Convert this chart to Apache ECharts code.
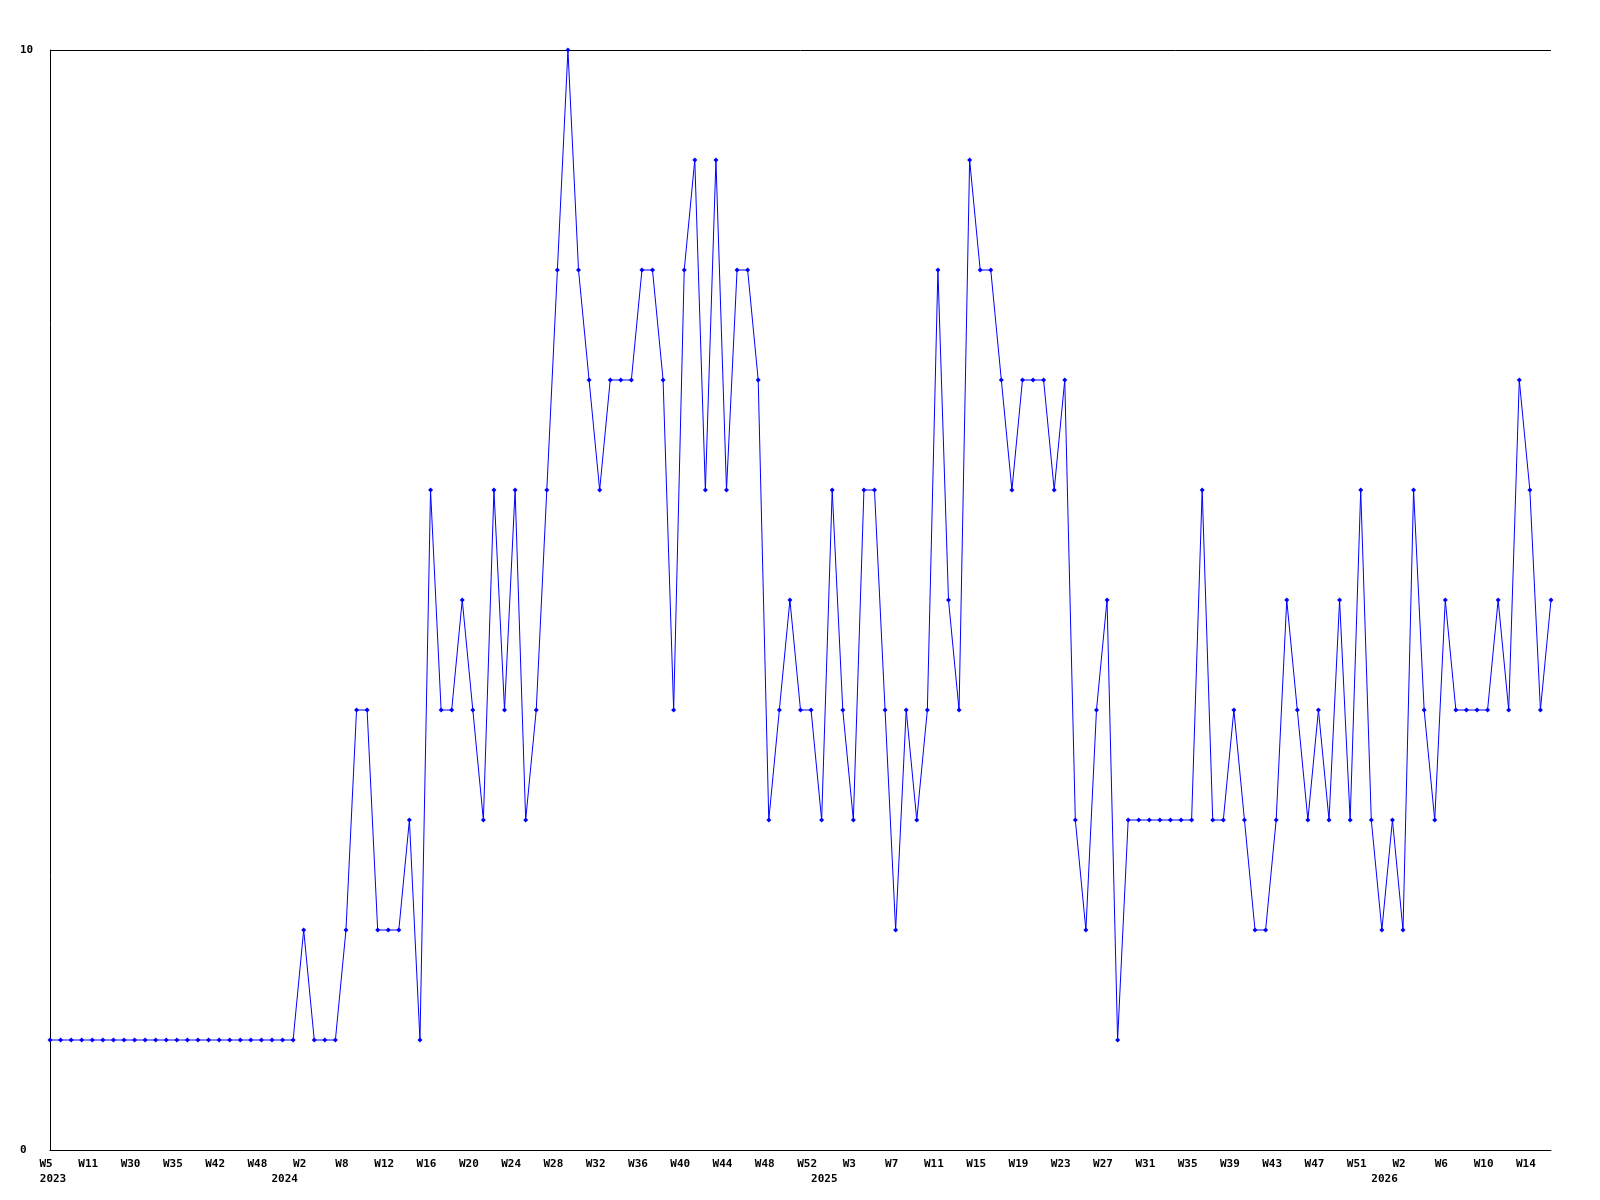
<!DOCTYPE html>
<html>
<head>
<meta charset="utf-8">
<script src="https://cdn.jsdelivr.net/npm/echarts@6/dist/echarts.min.js"></script>
<style>
  html, body { margin: 0; padding: 0; background: #fff; }
  #chart { width: 1600px; height: 1200px; }
</style>
</head>
<body>
<div id="chart"></div>
<script>
// weeks shown on the x axis (only every 4th one gets a label)
const years = [
  2023, 2023, 2023, 2023, 2023, 2023, 2023, 2023, 2023, 2023, 2023, 2023,
  2023, 2023, 2023, 2023, 2023, 2023, 2023, 2023, 2023, 2023, 2023, 2023,
  2024, 2024, 2024, 2024, 2024, 2024, 2024, 2024, 2024, 2024, 2024, 2024,
  2024, 2024, 2024, 2024, 2024, 2024, 2024, 2024, 2024, 2024, 2024, 2024,
  2024, 2024, 2024, 2024, 2024, 2024, 2024, 2024, 2024, 2024, 2024, 2024,
  2024, 2024, 2024, 2024, 2024, 2024, 2024, 2024, 2024, 2024, 2024, 2024,
  2024, 2024, 2025, 2025, 2025, 2025, 2025, 2025, 2025, 2025, 2025, 2025,
  2025, 2025, 2025, 2025, 2025, 2025, 2025, 2025, 2025, 2025, 2025, 2025,
  2025, 2025, 2025, 2025, 2025, 2025, 2025, 2025, 2025, 2025, 2025, 2025,
  2025, 2025, 2025, 2025, 2025, 2025, 2025, 2025, 2025, 2025, 2025, 2025,
  2025, 2025, 2025, 2025, 2025, 2025, 2025, 2026, 2026, 2026, 2026, 2026,
  2026, 2026, 2026, 2026, 2026, 2026, 2026, 2026, 2026, 2026, 2026
];
const weeks = [
  5, 6, 8, 10, 11, 13, 20, 27, 30, 31, 32, 34,
  35, 37, 39, 40, 42, 43, 45, 46, 48, 49, 51, 52,
  2, 3, 5, 6, 8, 9, 10, 11, 12, 13, 14, 15,
  16, 17, 18, 19, 20, 21, 22, 23, 24, 25, 26, 27,
  28, 29, 30, 31, 32, 33, 34, 35, 36, 37, 38, 39,
  40, 41, 42, 43, 44, 45, 46, 47, 48, 49, 50, 51,
  52, 53, 1, 2, 3, 4, 5, 6, 7, 8, 9, 10,
  11, 12, 13, 14, 15, 16, 17, 18, 19, 20, 21, 22,
  23, 24, 25, 26, 27, 28, 29, 30, 31, 32, 33, 34,
  35, 36, 37, 38, 39, 40, 41, 42, 43, 44, 45, 46,
  47, 48, 49, 50, 51, 52, 53, 1, 2, 3, 4, 5,
  6, 7, 8, 9, 10, 11, 12, 13, 14, 15, 16
];
const counts = [
  1, 1, 1, 1, 1, 1, 1, 1, 1, 1, 1, 1,
  1, 1, 1, 1, 1, 1, 1, 1, 1, 1, 1, 1,
  2, 1, 1, 1, 2, 4, 4, 2, 2, 2, 3, 1,
  6, 4, 4, 5, 4, 3, 6, 4, 6, 3, 4, 6,
  8, 10, 8, 7, 6, 7, 7, 7, 8, 8, 7, 4,
  8, 9, 6, 9, 6, 8, 8, 7, 3, 4, 5, 4,
  4, 3, 6, 4, 3, 6, 6, 4, 2, 4, 3, 4,
  8, 5, 4, 9, 8, 8, 7, 6, 7, 7, 7, 6,
  7, 3, 2, 4, 5, 1, 3, 3, 3, 3, 3, 3,
  3, 6, 3, 3, 4, 3, 2, 2, 3, 5, 4, 3,
  4, 3, 5, 3, 6, 3, 2, 3, 2, 6, 4, 3,
  5, 4, 4, 4, 4, 5, 4, 7, 6, 4, 5
];
const labelStep = 4;

const categories = weeks.map((w, i) => years[i] + '-W' + w);

const chart = echarts.init(document.getElementById('chart'));

const font = {
  fontFamily: 'DejaVu Sans Mono',
  fontWeight: 'bold',
  fontSize: 11,
  color: '#000'
};

// the year line sits a bit left of its week label, like the original
const yearPad = {
  2023: [0, 0, 0, 6],
  2024: [0, 38, 0, 0],
  2025: [0, 58, 0, 0],
  2026: [0, 37, 0, 0]
};
const rich = { w: { ...font, padding: [0, 8, 0, 0] } };
Object.keys(yearPad).forEach(y => {
  rich['y' + y] = { ...font, padding: yearPad[y] };
});

chart.setOption({
  animation: false,
  backgroundColor: '#fff',
  grid: { left: 50, right: 49, top: 50, bottom: 50 },
  xAxis: {
    type: 'category',
    data: categories,
    boundaryGap: false,
    axisLine: { lineStyle: { color: '#000', width: 1 } },
    axisTick: { show: false },
    axisLabel: {
      ...font,
      interval: labelStep - 1,
      margin: 7,
      lineHeight: 15,
      rich: rich,
      formatter: (value, i) => {
        const w = '{w|W' + weeks[i] + '}';
        if (i === 0 || years[i] !== years[i - labelStep]) {
          return w + '\n{y' + years[i] + '|' + years[i] + '}';
        }
        return w;
      }
    },
    splitLine: { show: false }
  },
  yAxis: {
    type: 'value',
    min: 0,
    max: 10,
    interval: 10,
    axisLine: { show: true, lineStyle: { color: '#000', width: 1 } },
    axisTick: { show: false },
    axisLabel: { ...font, align: 'left', margin: 30 },
    splitLine: { show: true, lineStyle: { color: '#000', width: 1 } }
  },
  series: [{
    type: 'line',
    data: counts,
    symbol: 'diamond',
    symbolSize: 5,
    showAllSymbol: true,
    lineStyle: { color: '#0000ff', width: 1 },
    itemStyle: { color: '#0000ff' }
  }]
});
</script>
</body>
</html>
